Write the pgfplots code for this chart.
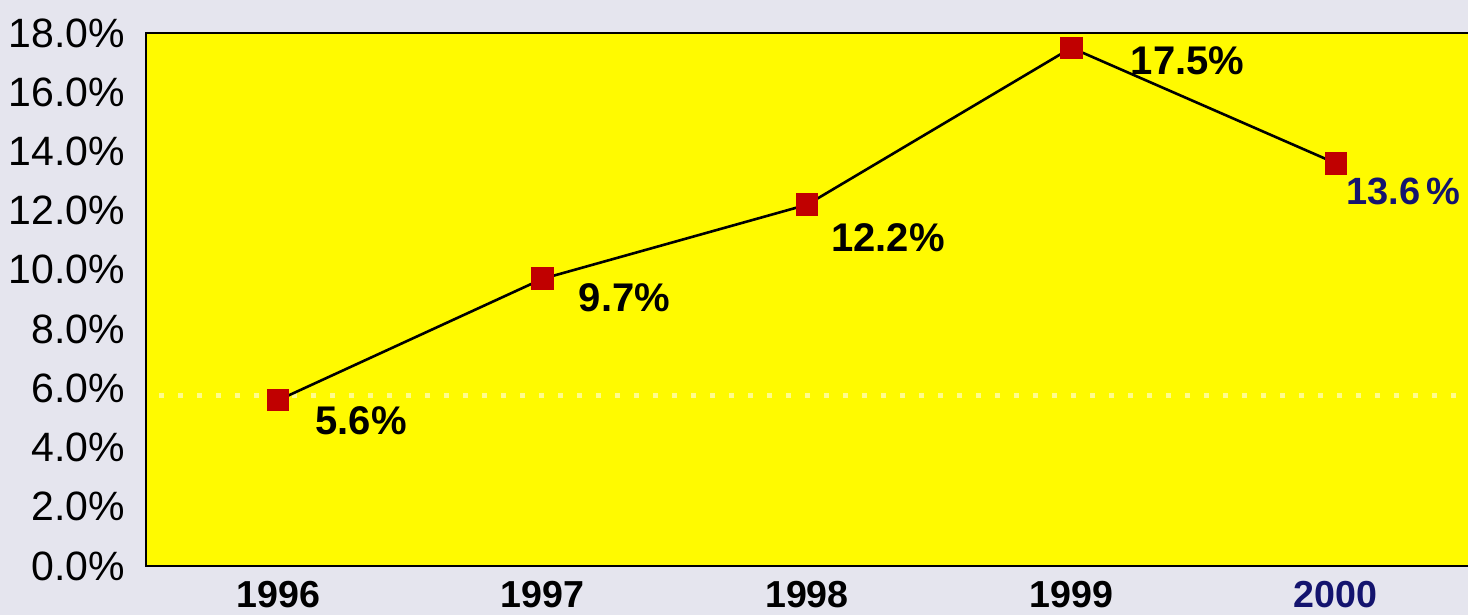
\documentclass[border=0pt]{standalone}
\usepackage{pgfplots}
\pgfplotsset{compat=1.18}
\usepackage{fontspec}
\setmainfont{Liberation Sans}
\definecolor{lav}{RGB}{229,229,238}
\definecolor{ylw}{RGB}{255,250,0}
\definecolor{mred}{RGB}{192,0,0}
\definecolor{navy}{RGB}{20,20,110}
\begin{document}
\begin{tikzpicture}
\path[use as bounding box, fill=lav] (-73pt,-24.5pt) rectangle (661pt,283pt);
\begin{axis}[
  scale only axis,
  width=661pt, height=266.5pt,
  xmin=-0.5, xmax=4.5, ymin=0, ymax=18,
  axis background/.style={fill=ylw},
  axis line style={draw=none},
  xtick={0,1,2,3,4},
  xticklabels={1996,1997,1998,\raisebox{-4pt}{1999},\textcolor{navy}{2000}},
  x tick label style={font=\fontsize{18.8}{20}\selectfont\bfseries, yshift=-4pt},
  ytick={0,2,...,18},
  yticklabel={\pgfmathprintnumber[fixed,fixed zerofill,precision=1]{\tick}\%},
  y tick label style={font=\fontsize{20.5}{22}\selectfont},
  /pgf/number format/assume math mode=true,
  major tick length=0pt,
  yticklabel style={xshift=-7pt},
  clip=false,
]
\addplot[white, line width=2.5pt, dash pattern=on 2.5pt off 7pt, opacity=0.55] coordinates {(-0.45,5.75) (4.5,5.75)};
\draw[black, line width=1.3pt] (rel axis cs:1.05,0) -- (rel axis cs:0,0) -- (rel axis cs:0,1) -- (rel axis cs:1.05,1);
\addplot[black, line width=1.3pt, mark=square*, mark size=5pt,
  mark options={fill=mred, draw=mred}] coordinates {
  (0,5.6) (1,9.7) (2,12.2) (3,17.5) (4,13.6)};
\begin{scope}[every node/.style={font=\fontsize{20}{22}\selectfont\bfseries, anchor=west, inner sep=0pt}]
\node at (axis cs:0,5.6) [xshift=18.5pt, yshift=-10.5pt] {5.6\%};
\node at (axis cs:1,9.7) [xshift=18pt, yshift=-9.5pt] {9.7\%};
\node at (axis cs:2,12.2) [xshift=12pt, yshift=-16.5pt] {12.2\%};
\node at (axis cs:3,17.5) [xshift=29.5pt, yshift=-6.5pt] {17.5\%};
\node[navy, font=\fontsize{19}{21}\selectfont\bfseries] at (axis cs:4,13.6) [xshift=5pt, yshift=-14pt] {13.6\hspace{0.17em}\%};
\end{scope}
\end{axis}
\end{tikzpicture}
\end{document}
